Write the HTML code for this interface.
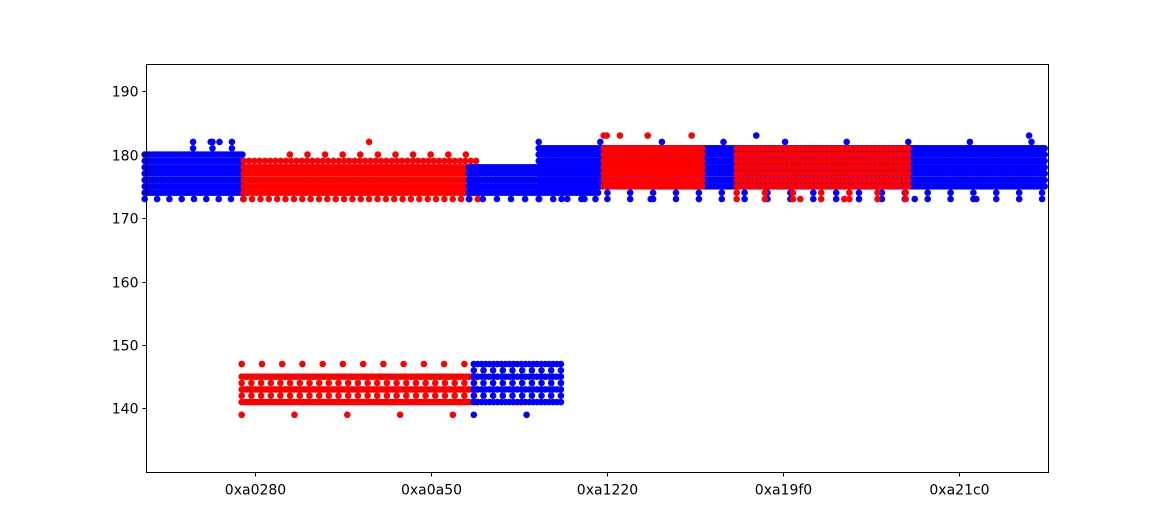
<!DOCTYPE html>
<html><head><meta charset="utf-8"><style>
body{margin:0;background:#fff}
svg{display:block}
text{font-family:"DejaVu Sans","Liberation Sans",sans-serif;font-size:14px;fill:#000}
</style></head><body>
<svg id="chart" width="1165" height="530" xmlns="http://www.w3.org/2000/svg">
<rect x="0" y="0" width="1165" height="530" fill="#fff"/>
<g id="marks"></g>
<rect x="146.5" y="64.5" width="902" height="408" fill="none" stroke="#000" stroke-width="1"/>
<g id="axes"></g>
</svg>
<script>
const bandX0 = [654750, 654750, 655300, 655875, 655875, 655875, 656400, 658432, 658432, 659227, 659227, 659227, 659966, 659966, 661477, 661477, 655852, 655852, 655852, 655852, 658489, 658489, 658489];
const bandX1 = [655875, 655875, 655875, 658545, 658545, 658545, 658545, 659909, 659909, 665000, 665000, 665000, 661102, 661102, 663432, 663432, 658545, 658545, 658545, 658545, 659489, 659489, 659489];
const bandY0 = [174, 173, 181, 174, 173, 179, 180, 174, 173, 175, 173, 182, 175, 183, 175, 173, 141, 142, 147, 139, 141, 142, 139];
const bandY1 = [180, 173, 182, 178, 173, 179, 180, 178, 173, 181, 174, 182, 181, 183, 181, 174, 145, 144, 147, 139, 147, 146, 139];
const bandYStep = [1, 1, 1, 1, 1, 1, 1, 1, 1, 1, 1, 1, 1, 1, 1, 1, 2, 2, 1, 1, 2, 2, 1];
const bandColor = ['blue','blue','blue','red','red','red','red','blue','blue','blue','blue','blue','red','red','red','red','red','red','red','red','blue','blue','blue'];
const bandStep = [30, 140, 220, 30, 95, 60, 200, 30, 160, 25, 260, 700, 28, 500, 50, 320, 30, 110, 230, 600, 45, 110, 600];
const outX = [655500,655600,657300,660000,660500,661700,663500,664200,664800,662200,662700,660150];
const outY = [182,182,182,183,173,183,173,173,183,173,173,183];
const outC = ['blue','blue','red','red','blue','blue','blue','blue','blue','red','red','red'];
const xTickVals = [656000, 658000, 660000, 662000, 664000];
const xTickLabels = ['0xa0280','0xa0a50','0xa1220','0xa19f0','0xa21c0'];
const yTickVals = [140,150,160,170,180,190];

const X0=146.5,X1=1048.5,Y0=472.5,Y1=64.5;
const xmin=654770,xmax=665020,ymin=129.9,ymax=194.2;
function xs(v){return X0+(v-xmin)/(xmax-xmin)*(X1-X0);}
function ys(v){return Y0-(v-ymin)/(ymax-ymin)*(Y0-Y1);}
const NS='http://www.w3.org/2000/svg';
const marks=document.getElementById('marks');
function dot(x,y,c){
  const el=document.createElementNS(NS,'circle');
  el.setAttribute('cx',xs(x).toFixed(1));
  el.setAttribute('cy',ys(y).toFixed(1));
  el.setAttribute('r','3.3');
  el.setAttribute('fill',c);
  
  
  marks.appendChild(el);
}
for(let b=0;b<bandX0.length;b++){
  for(let x=bandX0[b];x<=bandX1[b];x+=bandStep[b]){
    for(let y=bandY0[b];y<=bandY1[b];y+=bandYStep[b]){dot(x,y,bandColor[b]);}
  }
}
for(let i=0;i<outX.length;i++)dot(outX[i],outY[i],outC[i]);
const axes=document.getElementById('axes');
function line(x1,y1,x2,y2,name){
  const el=document.createElementNS(NS,'line');
  el.setAttribute('x1',x1);el.setAttribute('y1',y1);el.setAttribute('x2',x2);el.setAttribute('y2',y2);
  el.setAttribute('stroke','#000');
  
  
  axes.appendChild(el);
}
function label(x,y,t,anchor,name){
  const el=document.createElementNS(NS,'text');
  el.setAttribute('x',x);el.setAttribute('y',y);el.setAttribute('text-anchor',anchor);
  el.textContent=t;
  
  
  axes.appendChild(el);
}
xTickVals.forEach((v,i)=>{const x=Math.round(xs(v))+0.5;line(x,Y0,x,Y0+4,'x-tick');label(x,Y0+22,xTickLabels[i],'middle','x-tick-label');});
yTickVals.forEach(v=>{const y=Math.round(ys(v))+0.5;line(X0-4,y,X0,y,'y-tick');label(X0-8,y+5,String(v),'end','y-tick-label');});
</script>
</body></html>
